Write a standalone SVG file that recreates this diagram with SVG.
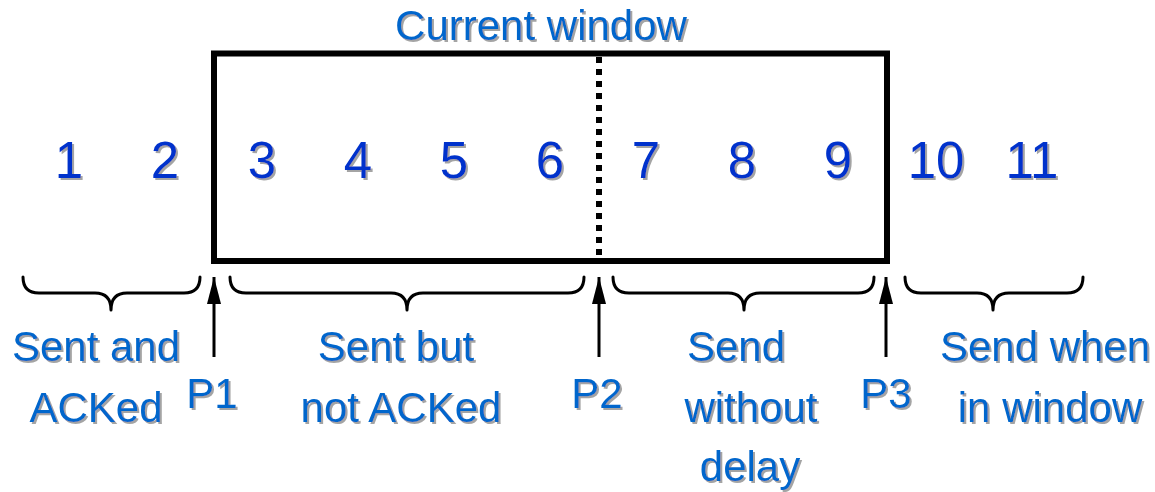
<svg xmlns="http://www.w3.org/2000/svg" width="1155" height="492" viewBox="0 0 1155 492">
  <defs>
    <filter id="shadow" x="-10%" y="-10%" width="130%" height="140%">
      <feDropShadow dx="2" dy="2" stdDeviation="0.6" flood-color="#9a9a9a" flood-opacity="0.9"/>
    </filter>
    <!-- arrowhead drawn along +x so orient="auto" points it along the line -->
    <marker id="arrow" markerWidth="27" markerHeight="14" refX="27" refY="7" orient="auto" markerUnits="userSpaceOnUse" viewBox="0 0 27 14">
      <path d="M0 0 L27 7 L0 14 Z" fill="#000"/>
    </marker>
  </defs>
  <style>
    .lbl { font-family: "Liberation Sans", Arial, sans-serif; font-size: 42px; fill: #0066cc; text-anchor: middle; }
    .num { font-family: "Liberation Sans", Arial, sans-serif; font-size: 51px; fill: #0033cc; text-anchor: middle; }
    .brace { fill: none; stroke: #000; stroke-width: 3; stroke-linecap: round; stroke-linejoin: round; }
    .ptr { stroke: #000; stroke-width: 3; }
  </style>
  <rect width="1155" height="492" fill="#fff"/>

  <!-- window frame -->
  <g id="window">
    <rect x="214" y="53.5" width="673" height="207.5" fill="none" stroke="#000" stroke-width="6"/>
    <line x1="599" y1="57" x2="599" y2="258" stroke="#000" stroke-width="6" stroke-dasharray="6 6"/>
  </g>

  <g id="title" filter="url(#shadow)">
    <text class="lbl" x="541" y="40">Current window</text>
  </g>

  <!-- sequence numbers -->
  <g id="numbers" filter="url(#shadow)">
    <text class="num" x="69" y="178">1</text>
    <text class="num" x="165" y="178">2</text>
    <text class="num" x="262" y="178">3</text>
    <text class="num" x="358" y="178">4</text>
    <text class="num" x="454" y="178">5</text>
    <text class="num" x="550" y="178">6</text>
    <text class="num" x="646" y="178">7</text>
    <text class="num" x="742" y="178">8</text>
    <text class="num" x="838" y="178">9</text>
    <text class="num" x="936" y="178">10</text>
    <text class="num" x="1032" y="178">11</text>
  </g>

  <!-- braces and pointers -->
  <g id="connectors">
    <path class="brace" d="M23 277 Q23 293 39 293 L95 293 Q111 293 111 310 Q111 293 127 293 L184 293 Q200 293 200 277"/>
    <path class="brace" d="M230 277 Q230 293 246 293 L391 293 Q407 293 407 310 Q407 293 423 293 L568 293 Q584 293 584 277"/>
    <path class="brace" d="M613 277 Q613 293 629 293 L728 293 Q744 293 744 310 Q744 293 760 293 L858 293 Q874 293 874 277"/>
    <path class="brace" d="M905 277 Q905 293 921 293 L977 293 Q993 293 993 310 Q993 293 1009 293 L1067 293 Q1083 293 1083 277"/>
    <line class="ptr" x1="214" y1="357" x2="214" y2="277" marker-end="url(#arrow)"/>
    <line class="ptr" x1="599" y1="357" x2="599" y2="277" marker-end="url(#arrow)"/>
    <line class="ptr" x1="886" y1="357" x2="886" y2="277" marker-end="url(#arrow)"/>
  </g>

  <g id="pointer-labels" filter="url(#shadow)">
    <text class="lbl" x="212" y="408">P1</text>
    <text class="lbl" x="597" y="408">P2</text>
    <text class="lbl" x="886" y="408">P3</text>
  </g>

  <g id="sent-acked" filter="url(#shadow)">
    <text class="lbl" x="96" y="361">Sent and</text>
    <text class="lbl" x="96" y="422">ACKed</text>
  </g>

  <g id="sent-not-acked" filter="url(#shadow)">
    <text class="lbl" x="396" y="361">Sent but</text>
    <text class="lbl" x="401" y="422">not ACKed</text>
  </g>

  <g id="send-now" filter="url(#shadow)">
    <text class="lbl" x="736" y="361">Send</text>
    <text class="lbl" x="751" y="422">without</text>
    <text class="lbl" x="750" y="481">delay</text>
  </g>

  <g id="send-later" filter="url(#shadow)">
    <text class="lbl" x="1045" y="361">Send when</text>
    <text class="lbl" x="1050" y="422">in window</text>
  </g>
</svg>
